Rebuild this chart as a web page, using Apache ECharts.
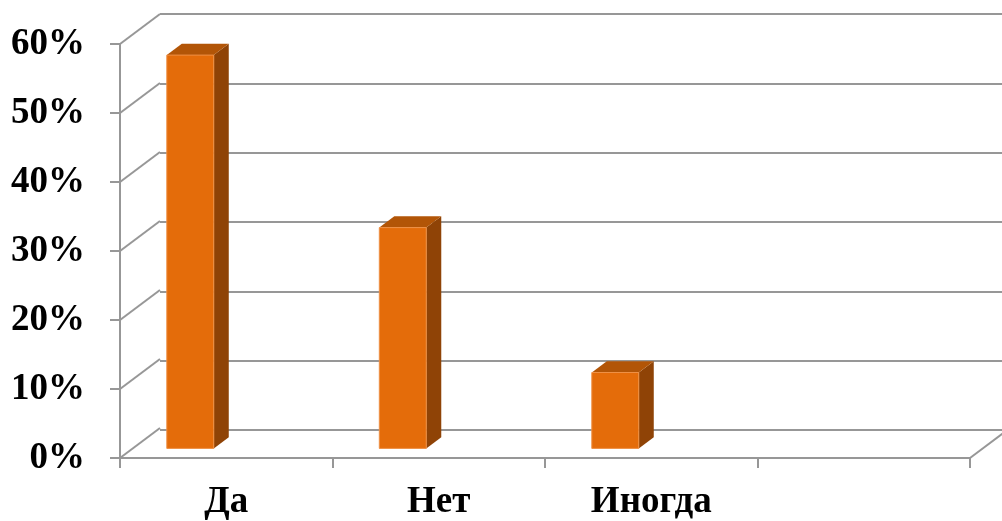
<!DOCTYPE html>
<html>
<head>
<meta charset="utf-8">
<script src="https://cdn.jsdelivr.net/npm/echarts@6/dist/echarts.min.js"></script>
<style>
  html, body { margin: 0; padding: 0; background: #fff; }
  #chart { width: 1002px; height: 521px; }
</style>
</head>
<body>
<div id="chart"></div>
<script>
// Survey answers and their shares
const categories = ['Да', 'Нет', 'Иногда', ''];
const shares = [0.57, 0.32, 0.11];
const yTicks = [0, 0.1, 0.2, 0.3, 0.4, 0.5, 0.6];

// 3D look: the floor/walls recede by this vector (px)
const DEPTH = [40, -30];
const BAR_FRONT = 0.32;   // bar front face position along the depth
const BAR_DEPTH = 0.375;  // bar thickness along the depth
const BAR_LEFT = 0.16;    // bar offset inside its category band
const BAR_WIDTH = 0.221;  // bar width as share of band

const GRID_COLOR = '#979797';
const FONT = { fontFamily: '"Liberation Serif", "Times New Roman", serif', fontWeight: 'bold', fontSize: 37, color: '#000' };

const chart = echarts.init(document.getElementById('chart'), null, { renderer: 'canvas' });

function wallLines(params, api) {
  const v = api.value(0);
  const band = api.size([1, 0])[0];
  const p = api.coord([0, v]);
  const x = p[0] - band / 2;
  const y = p[1];
  const children = [{
    type: 'line',
    shape: { x1: x, y1: y, x2: x + DEPTH[0], y2: y + DEPTH[1] },
    style: { stroke: GRID_COLOR, lineWidth: 2 }
  }];
  if (v === 0) {
    const xr = api.coord([categories.length - 1, 0])[0] + band / 2;
    children.push({
      type: 'line',
      shape: { x1: xr, y1: y, x2: xr + DEPTH[0], y2: y + DEPTH[1] },
      style: { stroke: GRID_COLOR, lineWidth: 2 }
    });
  }
  return { type: 'group', children: children };
}

function bar3d(params, api) {
  const i = api.value(0);
  const v = api.value(1);
  const band = api.size([1, 0])[0];
  const base = api.coord([i, 0]);
  const top = api.coord([i, v]);
  const w = band * BAR_WIDTH;
  const x0 = base[0] - band / 2 + band * BAR_LEFT + DEPTH[0] * BAR_FRONT;
  const y0 = base[1] + DEPTH[1] * BAR_FRONT;
  const yt = top[1] + DEPTH[1] * BAR_FRONT;
  const dx = DEPTH[0] * BAR_DEPTH, dy = DEPTH[1] * BAR_DEPTH;
  return {
    type: 'group',
    children: [
      { type: 'polygon', shape: { points: [[x0 + w, y0], [x0 + w + dx, y0 + dy], [x0 + w + dx, yt + dy], [x0 + w, yt]] },
        style: { fill: '#8F4306' } },
      { type: 'polygon', shape: { points: [[x0, yt], [x0 + dx, yt + dy], [x0 + w + dx, yt + dy], [x0 + w, yt]] },
        style: { fill: '#B25507' } },
      { type: 'rect', shape: { x: x0, y: yt, width: w, height: y0 - yt },
        style: { fill: '#E46C0A', stroke: '#EE9045', lineWidth: 1 } }
    ]
  };
}

chart.setOption({
  animation: false,
  backgroundColor: '#ffffff',
  grid: [
    { left: 120, right: 32, top: 44, bottom: 61 },
    { left: 160, right: 0, top: 14, bottom: 91 }
  ],
  xAxis: [
    {
      gridIndex: 0, type: 'category', data: categories, boundaryGap: true,
      axisLine: { show: true, lineStyle: { color: GRID_COLOR, width: 2 } },
      axisTick: { show: true, length: 10, interval: 0, lineStyle: { color: GRID_COLOR, width: 2 } },
      axisLabel: Object.assign({ margin: 26, interval: 0 }, FONT),
      splitLine: { show: false }
    },
    {
      gridIndex: 1, type: 'category', data: categories, show: false
    }
  ],
  yAxis: [
    {
      gridIndex: 0, type: 'value', min: 0, max: 0.6, interval: 0.1,
      axisLine: { show: true, lineStyle: { color: GRID_COLOR, width: 2 } },
      axisTick: { show: true, length: 10, lineStyle: { color: GRID_COLOR, width: 2 } },
      axisLabel: Object.assign({ margin: 35, formatter: v => Math.round(v * 100) + '%', padding: [4, 0, 0, 0] }, FONT),
      splitLine: { show: false }
    },
    {
      gridIndex: 1, type: 'value', min: 0, max: 0.6, interval: 0.1,
      axisLine: { show: false }, axisTick: { show: false }, axisLabel: { show: false },
      splitLine: { show: true, lineStyle: { color: GRID_COLOR, width: 2 } }
    }
  ],
  series: [
    {
      type: 'custom', xAxisIndex: 0, yAxisIndex: 0, clip: false, silent: true, z: 1,
      renderItem: wallLines,
      data: yTicks.map(v => [v])
    },
    {
      type: 'custom', xAxisIndex: 0, yAxisIndex: 0, clip: false, z: 5,
      renderItem: bar3d,
      encode: { x: 0, y: 1 },
      data: shares.map((v, i) => [i, v])
    }
  ]
});
</script>
</body>
</html>
